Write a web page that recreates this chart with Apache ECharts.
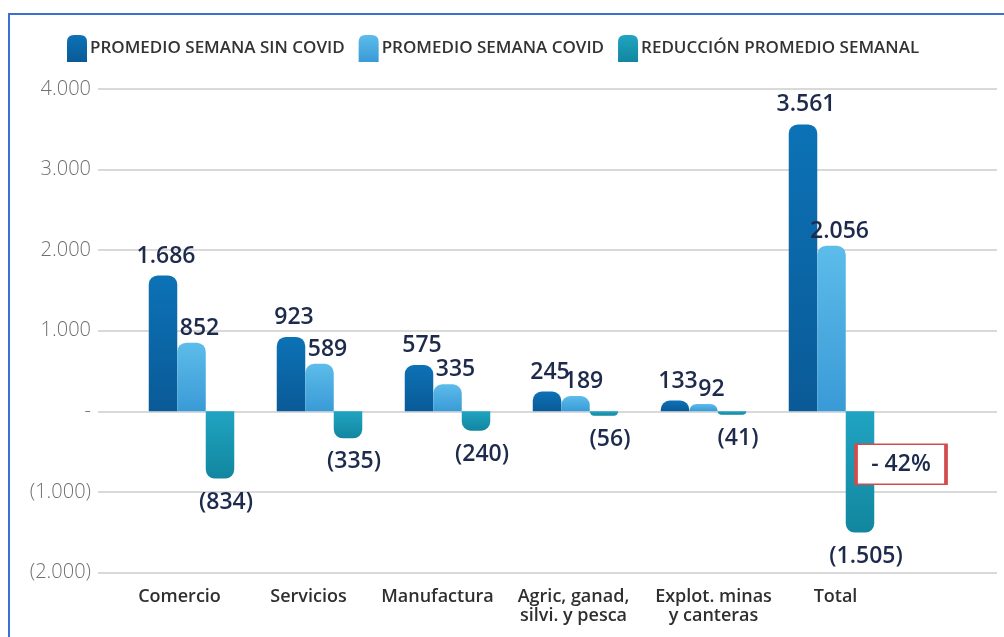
<!DOCTYPE html>
<html>
<head>
<meta charset="utf-8">
<title>Promedio semanal</title>
<script src="https://cdn.jsdelivr.net/npm/echarts@6/dist/echarts.min.js"></script>
<style>
  html, body { margin: 0; padding: 0; background: #fff; }
  #frame {
    position: absolute; left: 8px; top: 13px; right: 0; bottom: 0;
    border-left: 2px solid #3d6fd3; border-top: 2px solid #3d6fd3;
  }
  #chart { position: absolute; left: 0; top: 0; width: 1004px; height: 637px; }
</style>
</head>
<body>
<div id="frame"></div>
<div id="chart"></div>
<script>
// datos
const categories = ['Comercio', 'Servicios', 'Manufactura', 'Agric, ganad,\nsilvi. y pesca', 'Explot. minas\ny canteras', 'Total'];
const sinCovid = [1686, 923, 575, 245, 133, 3561];
const conCovid = [852, 589, 335, 189, 92, 2056];
const reduccion = [-834, -335, -240, -56, -41, -1505];
const seriesNames = ['PROMEDIO SEMANA SIN COVID', 'PROMEDIO SEMANA COVID', 'REDUCCIÓN PROMEDIO SEMANAL'];
const yTicks = { min: -2000, max: 4000, step: 1000 };

// small nudges so the category names sit like in the original
const labelNudge = [-12, -11, -10, -2, 10, 4];

const navy = '#1d2a4c';
const font = 'Open Sans';

function miles(v) {
  return String(Math.round(v)).replace(/\B(?=(\d{3})+(?!\d))/g, '.');
}
function fmt(v) {
  if (v === 0) return '-';
  return v < 0 ? '(' + miles(-v) + ')' : miles(v);
}
function grad(top, bottom) {
  return new echarts.graphic.LinearGradient(0, 0, 0, 1, [
    { offset: 0, color: top },
    { offset: 1, color: bottom }
  ]);
}

const chart = echarts.init(document.getElementById('chart'));
const last = categories.length - 1;
const pct = Math.round(reduccion[last] / sinCovid[last] * 100);
const iconPath = 'path://M0,7 Q0,0 7,0 L13,0 Q20,0 20,7 L20,27 L0,27 Z';

const valueLabel = {
  show: true,
  formatter: p => fmt(p.value),
  fontFamily: font,
  fontSize: 23,
  fontWeight: 600,
  color: navy
};

chart.setOption({
  animation: false,
  legend: {
    data: seriesNames,
    left: 62,
    top: 30,
    itemWidth: 20,
    itemHeight: 27,
    itemGap: 14,
    icon: iconPath,
    textStyle: { fontFamily: font, fontSize: 17, fontWeight: 600, color: '#333', padding: [0, 0, 0, -2] }
  },
  grid: [
    { left: 98, right: 7, top: 89, bottom: 64.5 },
    { left: 127.5, right: 108.5, top: 89, bottom: 64.5 }
  ],
  xAxis: [
    { gridIndex: 0, type: 'category', data: [''], show: false },
    {
      gridIndex: 1,
      type: 'category',
      data: categories.map((c, i) => ({
        value: c,
        textStyle: { padding: labelNudge[i] < 0 ? [0, -2 * labelNudge[i], 0, 0] : [0, 0, 0, 2 * labelNudge[i]] }
      })),
      axisLine: { show: false },
      axisTick: { show: false },
      axisLabel: {
        margin: 15,
        fontFamily: font,
        fontSize: 18,
        fontWeight: 600,
        color: '#2f2f2f',
        lineHeight: 19,
        interval: 0
      }
    }
  ],
  yAxis: [
    {
      gridIndex: 0,
      type: 'value',
      min: yTicks.min,
      max: yTicks.max,
      interval: yTicks.step,
      axisLine: { show: false },
      axisTick: { show: false },
      axisLabel: {
        margin: 7,
        fontFamily: font,
        fontSize: 20,
        fontWeight: 300,
        color: '#6f6f6f',
        formatter: fmt
      },
      splitLine: { lineStyle: { color: '#cdcdcd', width: 1.5 } }
    },
    {
      gridIndex: 1,
      type: 'value',
      min: yTicks.min,
      max: yTicks.max,
      interval: yTicks.step,
      show: false
    }
  ],
  series: [
    {
      name: seriesNames[0],
      type: 'bar',
      xAxisIndex: 1,
      yAxisIndex: 1,
      data: sinCovid,
      barWidth: 28.5,
      barGap: '0%',
      itemStyle: { color: grad('#0c72b6', '#0a5a97'), borderRadius: [9, 9, 0, 0] },
      label: Object.assign({ position: 'top', distance: 8, offset: [3, 0] }, valueLabel)
    },
    {
      name: seriesNames[1],
      type: 'bar',
      xAxisIndex: 1,
      yAxisIndex: 1,
      data: conCovid,
      barWidth: 28.5,
      barGap: '0%',
      itemStyle: { color: grad('#5cbcea', '#3a9ad6'), borderRadius: [9, 9, 0, 0] },
      label: Object.assign({ position: 'top', distance: 3, offset: [8, 0] }, valueLabel)
    },
    {
      name: seriesNames[2],
      type: 'bar',
      xAxisIndex: 1,
      yAxisIndex: 1,
      data: reduccion,
      barWidth: 28.5,
      barGap: '0%',
      itemStyle: { color: grad('#20a4c2', '#12869f'), borderRadius: [0, 0, 9, 9] },
      label: Object.assign({ position: 'bottom', distance: 12, offset: [6, 0] }, valueLabel),
      markPoint: {
        silent: true,
        data: [{
          coord: [last, -657],
          symbol: 'rect',
          symbolSize: [90, 40],
          symbolOffset: [41, 0],
          itemStyle: { color: '#fff', borderColor: '#d24c4c', borderWidth: 2.5 },
          label: {
            show: true,
            position: 'inside',
            formatter: '- ' + Math.abs(pct) + '%',
            fontFamily: font,
            fontSize: 23,
            fontWeight: 600,
            color: navy
          }
        }]
      }
    }
  ]
});
</script>
</body>
</html>
